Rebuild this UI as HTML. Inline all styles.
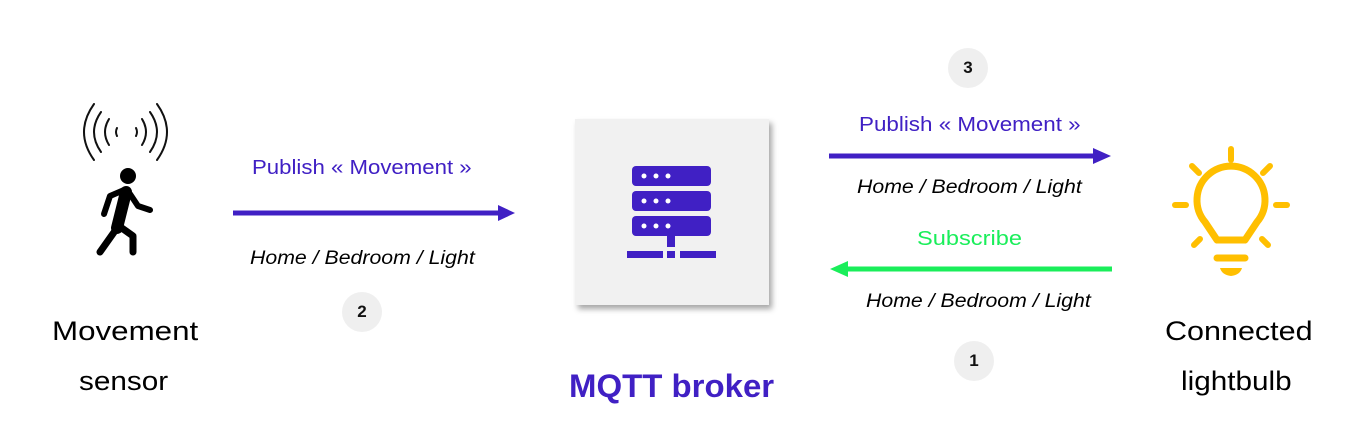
<!DOCTYPE html>
<html><head><meta charset="utf-8"><style>
body{margin:0;background:#fff;width:1372px;height:430px;overflow:hidden;position:relative;font-family:"Liberation Sans",sans-serif}
.t{position:absolute;white-space:nowrap;transform-origin:0 0}
.c{position:absolute;width:40px;height:40px;border-radius:50%;background:#efefef;font-weight:bold;font-size:17px;text-align:center;line-height:40px;color:#111}
</style></head><body>
<svg width="1372" height="430" style="position:absolute;left:0;top:0">
<defs><filter id="sh" x="-20%" y="-20%" width="150%" height="150%"><feDropShadow dx="3" dy="4" stdDeviation="3" flood-color="#000" flood-opacity="0.35"/></filter></defs>
<g fill="none" stroke="#111" stroke-width="2" stroke-linecap="round">
<path d="M94 104 Q74 132 94 160"/><path d="M101 112 Q87 132 101 152"/><path d="M109 119 Q101 132 109 145"/><path d="M117 128 Q115 132 117 136"/>
<path d="M157 104 Q177 132 157 160"/><path d="M150 112 Q164 132 150 152"/><path d="M142 119 Q150 132 142 145"/><path d="M136 128 Q138 132 136 136"/>
</g>
<circle cx="128" cy="176" r="8" fill="#000"/>
<g stroke="#000" stroke-linecap="round" stroke-linejoin="round" fill="none">
<path d="M126 192 L117 228" stroke-width="12"/>
<path d="M124 190 L110 196 L104 214" stroke-width="6"/>
<path d="M130 194 L138 206 L150 210" stroke-width="6"/>
<path d="M117 228 L100 252" stroke-width="7"/>
<path d="M119 226 L133 236 L133 252" stroke-width="7"/>
</g>
<line x1="233" y1="213" x2="500" y2="213" stroke="#4020c4" stroke-width="5"/><polygon points="498,205 515,213 498,221" fill="#4020c4"/>
<line x1="829" y1="156" x2="1095" y2="156" stroke="#4020c4" stroke-width="5"/><polygon points="1093,148 1111,156 1093,164" fill="#4020c4"/>
<line x1="846" y1="269" x2="1112" y2="269" stroke="#1aee5a" stroke-width="5"/><polygon points="848,261 830,269 848,277" fill="#1aee5a"/>
<rect x="575" y="119" width="194" height="186" fill="#f1f1f1" filter="url(#sh)"/>
<g fill="#4020c4">
<rect x="632" y="166" width="79" height="20" rx="4"/><rect x="632" y="191" width="79" height="20" rx="4"/><rect x="632" y="216" width="79" height="20" rx="4"/>
<rect x="667" y="236" width="8" height="11"/><rect x="627" y="251" width="36" height="7"/><rect x="667" y="251" width="8" height="7"/><rect x="680" y="251" width="36" height="7"/>
</g>
<g fill="#fff"><circle cx="644" cy="176" r="2.5"/><circle cx="656" cy="176" r="2.5"/><circle cx="668" cy="176" r="2.5"/>
<circle cx="644" cy="201" r="2.5"/><circle cx="656" cy="201" r="2.5"/><circle cx="668" cy="201" r="2.5"/>
<circle cx="644" cy="226" r="2.5"/><circle cx="656" cy="226" r="2.5"/><circle cx="668" cy="226" r="2.5"/></g>
<g stroke="#ffbf00" stroke-width="6" stroke-linecap="round" fill="none">
<line x1="1231" y1="149" x2="1231" y2="160"/><line x1="1192" y1="166" x2="1199" y2="173"/><line x1="1270" y1="166" x2="1263" y2="173"/>
<line x1="1175" y1="205" x2="1186" y2="205"/><line x1="1276" y1="205" x2="1287" y2="205"/>
<line x1="1194" y1="245" x2="1200" y2="239"/><line x1="1268" y1="245" x2="1262" y2="239"/>
<path d="M1217 240 L1205 222 A34 34 0 1 1 1257 222 L1245 240 Z" stroke-linejoin="round" stroke-width="7"/>
<line x1="1217" y1="258" x2="1245" y2="258" stroke-width="7"/>
</g>
<path d="M1220 268 L1242 268 Q1240 275 1231 276 Q1222 275 1220 268Z" fill="#ffbf00"/>
</svg>
<div class="t" style="left:52px;top:316px;font-size:27px;transform:scaleX(1.16)">Movement</div>
<div class="t" style="left:79px;top:366px;font-size:27px;transform:scaleX(1.1)">sensor</div>
<div class="t" style="left:1165px;top:316px;font-size:27px;transform:scaleX(1.13)">Connected</div>
<div class="t" style="left:1181px;top:366px;font-size:27px;transform:scaleX(1.1)">lightbulb</div>
<div class="t" style="left:569px;top:368px;font-size:32px;font-weight:bold;color:#4020c4;transform:scaleX(1.03)">MQTT broker</div>
<div class="t" style="left:252px;top:157px;font-size:20px;color:#4020c4;transform:scaleX(1.11)">Publish « Movement »</div>
<div class="t" style="left:250px;top:248px;font-size:19px;font-style:italic;transform:scaleX(1.12)">Home / Bedroom / Light</div>
<div class="t" style="left:859px;top:114px;font-size:20px;color:#4020c4;transform:scaleX(1.12)">Publish « Movement »</div>
<div class="t" style="left:857px;top:177px;font-size:19px;font-style:italic;transform:scaleX(1.12)">Home / Bedroom / Light</div>
<div class="t" style="left:917px;top:228px;font-size:20px;color:#1aee5a;transform:scaleX(1.18)">Subscribe</div>
<div class="t" style="left:866px;top:291px;font-size:19px;font-style:italic;transform:scaleX(1.12)">Home / Bedroom / Light</div>
<div class="c" style="left:342px;top:292px">2</div>
<div class="c" style="left:948px;top:48px">3</div>
<div class="c" style="left:954px;top:341px">1</div>
</body></html>
